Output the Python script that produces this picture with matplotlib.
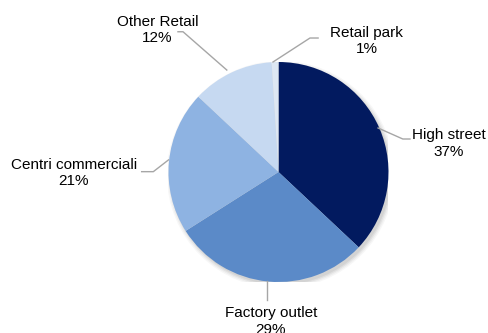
"""Retail split pie chart with leader-line labels."""

import matplotlib.pyplot as plt
from matplotlib.patches import Circle

plt.rcParams["font.family"] = ["Liberation Sans", "DejaVu Sans"]

# data, clockwise from 12 o'clock
categories = ["High street", "Factory outlet", "Centri commerciali", "Other Retail", "Retail park"]
shares = [37, 29, 21, 12, 1]
colors = ["#021A5F", "#5B8AC8", "#8EB3E2", "#C6D9F1", "#DDE7F3"]

# label layout (axes data units, pie radius = 1)
label_pos = {
    "High street": (1.55, 0.26),
    "Factory outlet": (-0.07, -1.36),
    "Centri commerciali": (-1.86, -0.01),
    "Other Retail": (-1.10, 1.29),
    "Retail park": (0.80, 1.19),
}
leaders = {
    "High street": [(0.905, 0.40), (1.13, 0.30), (1.195, 0.30)],
    "Factory outlet": [(-0.105, -0.99), (-0.105, -1.165)],
    "Centri commerciali": [(-1.0, 0.11), (-1.138, 0.003), (-1.244, 0.003)],
    "Other Retail": [(-0.47, 0.927), (-0.868, 1.275), (-0.914, 1.275)],
    "Retail park": [(-0.05, 1.0), (0.286, 1.218), (0.36, 1.218)],
}

W, H = 489, 333
cx, cy, r = 278.5, 172, 110

fig = plt.figure(figsize=(W / 100, H / 100), dpi=100)
ax = fig.add_axes([(cx - r) / W, (H - cy - r) / H, 2 * r / W, 2 * r / H])
ax.set_aspect("equal")
ax.axis("off")

# soft shadow
for i, a in enumerate([0.06, 0.05, 0.04, 0.03]):
    ax.add_patch(Circle((0.02, -0.025), 1.0 + 0.012 * i, color="#000000",
                        alpha=a, lw=0, zorder=0))

ax.pie(shares, colors=colors, startangle=90, counterclock=False, radius=1,
       wedgeprops=dict(linewidth=0, zorder=1))
ax.set_xlim(-1, 1)
ax.set_ylim(-1, 1)

for cat, val in zip(categories, shares):
    x, y = label_pos[cat]
    ax.text(x, y, f"{cat}\n{val}%", ha="center", va="center", fontsize=11,
            color="#000000", linespacing=1.2, clip_on=False)
    xs, ys = zip(*leaders[cat])
    ax.plot(xs, ys, color="#A6A6A6", lw=1, clip_on=False, zorder=3)

fig.savefig("out.png", dpi=100)
plt.close(fig)
